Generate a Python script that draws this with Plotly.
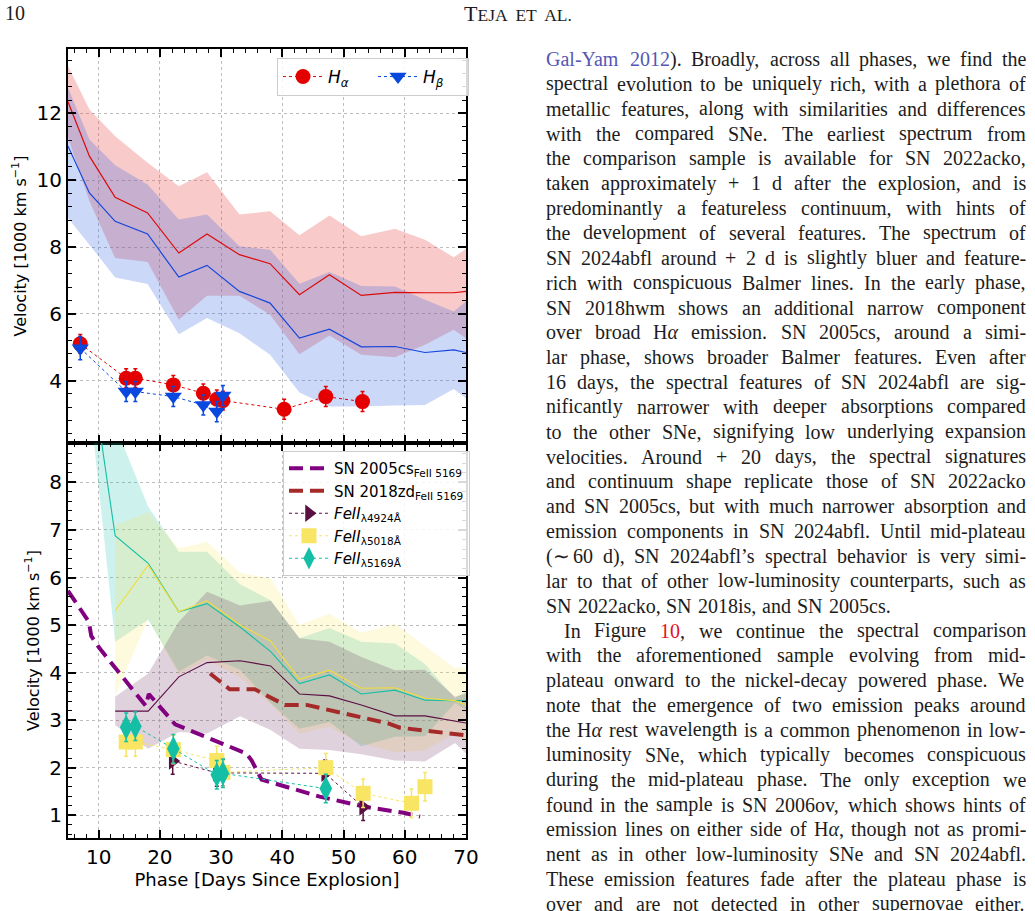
import re
import plotly.graph_objects as go

W, H = 1035, 911

# ---------------- DATA ----------------
# Top panel: comparison sample (mean and spread) for H-alpha / H-beta
comp_x_top = [5.0, 8.5, 12.7, 18.0, 23.1, 27.7, 33.0, 38.0, 42.8, 47.7, 52.9, 58.4, 63.3, 68.0, 70.0]
ha_comp_mean = [12.35, 10.72, 9.49, 9.02, 7.82, 8.39, 7.77, 7.50, 6.57, 7.17, 6.55, 6.64, 6.63, 6.63, 6.67]
ha_comp_upper = [13.42, 12.12, 11.32, 10.52, 9.82, 10.24, 8.97, 9.07, 8.35, 8.94, 8.32, 8.55, 8.22, 7.69, 7.95]
ha_comp_lower = [11.28, 9.37, 7.67, 7.55, 5.82, 6.54, 6.54, 5.97, 4.79, 5.35, 4.77, 4.70, 5.07, 5.52, 5.27]
hb_comp_mean = [11.02, 9.62, 8.77, 8.39, 7.10, 7.45, 6.67, 6.32, 5.27, 5.54, 5.01, 5.02, 4.84, 4.92, 4.84]
hb_comp_upper = [12.77, 11.22, 10.45, 9.87, 8.82, 8.97, 8.02, 7.92, 6.90, 7.25, 6.83, 6.82, 6.42, 6.07, 6.37]
hb_comp_lower = [8.87, 8.07, 7.09, 6.89, 5.39, 5.87, 5.42, 4.77, 3.64, 3.22, 3.22, 3.25, 3.27, 3.75, 3.47]

# Top panel: SN 2024abfl measurements
ha_x = [7.0, 14.5, 16.0, 22.2, 27.1, 29.3, 30.3, 40.3, 47.1, 53.1]
ha_v = [5.10, 4.07, 4.07, 3.87, 3.62, 3.44, 3.40, 3.14, 3.52, 3.37]
ha_err = [0.28, 0.28, 0.28, 0.28, 0.28, 0.28, 0.28, 0.3, 0.3, 0.3]
hb_x = [7.0, 14.5, 16.0, 22.2, 27.1, 29.3, 30.3]
hb_v = [4.97, 3.67, 3.67, 3.52, 3.27, 3.07, 3.55]
hb_err = [0.35, 0.3, 0.3, 0.3, 0.3, 0.3, 0.3]

# Bottom panel: comparison sample for Fe II lines
comp_x_bot = [8.5, 12.7, 18.1, 23.1, 27.7, 33.1, 38.1, 42.8, 47.7, 52.9, 58.4, 63.3, 68.2, 70.0]
fe5169_comp_mean = [10.6, 6.88, 6.30, 5.28, 5.45, 4.96, 4.44, 3.77, 3.95, 3.55, 3.63, 3.42, 3.41, 3.41]
fe5169_comp_upper = [11.5, 9.2, 7.49, 6.54, 6.54, 5.86, 5.52, 4.72, 4.94, 4.65, 4.61, 4.18, 3.46, 3.60]
fe5169_comp_lower = [9.73, 4.65, 5.11, 4.02, 4.36, 4.06, 3.36, 2.82, 2.96, 2.45, 2.65, 2.66, 3.36, 3.22]
comp_x_bot_fe = [12.7, 18.1, 23.1, 27.7, 33.1, 38.1, 42.8, 47.7, 52.9, 58.4, 63.3, 68.2, 70.0]
fe5018_comp_mean = [5.30, 6.26, 5.28, 5.51, 5.00, 4.66, 3.86, 4.05, 3.67, 3.68, 3.46, 3.41, 3.32]
fe5018_comp_upper = [7.10, 7.38, 6.61, 6.75, 6.10, 5.98, 5.00, 5.24, 4.84, 5.03, 4.56, 4.09, 4.12]
fe5018_comp_lower = [3.50, 5.14, 3.95, 4.27, 3.90, 3.34, 2.72, 2.86, 2.50, 2.33, 2.36, 2.73, 2.52]
fe4924_comp_mean = [3.19, 3.19, 3.91, 4.21, 4.25, 4.14, 3.55, 3.51, 3.32, 3.09, 3.09, 2.99, 2.94]
fe4924_comp_upper = [3.49, 3.98, 5.07, 5.70, 5.41, 5.51, 4.72, 4.65, 4.33, 4.05, 4.06, 3.49, 3.56]
fe4924_comp_lower = [2.89, 2.40, 2.75, 2.72, 3.08, 2.79, 2.40, 2.37, 2.28, 2.15, 2.13, 2.52, 2.30]

# Bottom panel: other SNe (Fe II 5169)
sn2005cs_x = [5.0, 8.4, 8.8, 10.1, 17.7, 18.2, 22.5, 34.1, 35.0, 36.6, 46.1, 53.8, 59.8, 62.5]
sn2005cs_v = [5.72, 5.07, 4.77, 4.52, 3.30, 3.55, 2.91, 2.30, 2.15, 1.75, 1.39, 1.17, 1.05, 0.97]
sn2018zd_x = [28.2, 31.4, 35.5, 40.4, 44.0, 57.3, 59.2, 70.0]
sn2018zd_v = [3.98, 3.65, 3.65, 3.32, 3.32, 2.93, 2.84, 2.68]

# Bottom panel: SN 2024abfl Fe II measurements
fe4924_x = [22.1, 29.3, 30.3, 47.0, 53.2]
fe4924_v = [2.14, 1.89, 1.89, 1.88, 1.17]
fe4924_err = [0.28, 0.28, 0.28, 0.28, 0.28]
fe5018_x = [14.5, 16.0, 22.2, 29.3, 30.3, 47.1, 53.2, 61.1, 63.3]
fe5018_v = [2.54, 2.54, 2.38, 2.15, 1.90, 2.00, 1.46, 1.25, 1.60]
fe5018_err = [0.3, 0.3, 0.3, 0.3, 0.3, 0.3, 0.3, 0.3, 0.3]
fe5169_x = [14.5, 16.0, 22.2, 29.3, 30.3, 47.1]
fe5169_v = [2.85, 2.87, 2.40, 1.85, 1.88, 1.56]
fe5169_err = [0.3, 0.3, 0.3, 0.3, 0.3, 0.3]

# Page text
header_page = "10"
header_title = "T<span style='font-size:17.5px'>EJA  ET  AL.</span>"
body_lines = [
    "{b:Gal-Yam} {b:2012}). Broadly, across all phases, we find the",
    "spectral evolution to be uniquely rich, with a plethora of",
    "metallic features, along with similarities and differences",
    "with the compared SNe. The earliest spectrum from",
    "the comparison sample is available for SN 2022acko,",
    "taken approximately + 1 d after the explosion, and is",
    "predominantly a featureless continuum, with hints of",
    "the development of several features. The spectrum of",
    "SN 2024abfl around + 2 d is slightly bluer and feature-",
    "rich with conspicuous Balmer lines. In the early phase,",
    "SN 2018hwm shows an additional narrow component",
    "over broad H{i:α} emission. SN 2005cs, around a simi-",
    "lar phase, shows broader Balmer features. Even after",
    "16 days, the spectral features of SN 2024abfl are sig-",
    "nificantly narrower with deeper absorptions compared",
    "to the other SNe, signifying low underlying expansion",
    "velocities. Around + 20 days, the spectral signatures",
    "and continuum shape replicate those of SN 2022acko",
    "and SN 2005cs, but with much narrower absorption and",
    "emission components in SN 2024abfl. Until mid-plateau",
    "(∼ 60 d), SN 2024abfl’s spectral behavior is very simi-",
    "lar to that of other low-luminosity counterparts, such as",
    "SN 2022acko, SN 2018is, and SN 2005cs.",
    "In Figure {r:10}, we continue the spectral comparison",
    "with the aforementioned sample evolving from mid-",
    "plateau onward to the nickel-decay powered phase. We",
    "note that the emergence of two emission peaks around",
    "the H{i:α} rest wavelength is a common phenomenon in low-",
    "luminosity SNe, which typically becomes conspicuous",
    "during the mid-plateau phase. The only exception we",
    "found in the sample is SN 2006ov, which shows hints of",
    "emission lines on either side of H{i:α}, though not as promi-",
    "nent as in other low-luminosity SNe and SN 2024abfl.",
    "These emission features fade after the plateau phase is",
    "over and are not detected in other supernovae either.",
]
para_end_lines = [22]
indent_lines = [23]

# ---------------- FIGURE ----------------
def px2x(px):
    return px / W


def py2y(py):
    return 1 - py / H


fig = go.Figure()


def band(x, lo, hi, color, xa, ya):
    fig.add_trace(go.Scatter(
        x=list(x) + list(x)[::-1], y=list(hi) + list(lo)[::-1],
        fill="toself", fillcolor=color, line=dict(width=0), mode="lines",
        hoverinfo="skip", showlegend=False, xaxis=xa, yaxis=ya))


def cline(x, y, color, xa, ya, width=1.2):
    fig.add_trace(go.Scatter(x=x, y=y, mode="lines", line=dict(color=color, width=width),
                             showlegend=False, hoverinfo="skip", xaxis=xa, yaxis=ya))


RED = "rgb(228,0,0)"
BLUE = "rgb(8,72,222)"
PURP = "#5a0f43"
YELL = "#f7e563"
TEAL = "#15bfa5"

# top bands
band(comp_x_top, ha_comp_lower, ha_comp_upper, "rgba(232,80,80,0.30)", "x", "y")
band(comp_x_top, hb_comp_lower, hb_comp_upper, "rgba(50,100,225,0.25)", "x", "y")
cline(comp_x_top, ha_comp_mean, "rgb(220,10,10)", "x", "y")
cline(comp_x_top, hb_comp_mean, "rgb(20,70,220)", "x", "y")

fig.add_trace(go.Scatter(
    x=ha_x, y=ha_v, mode="lines+markers", name="<i>H<sub>α</sub></i>",
    marker=dict(symbol="circle", size=15, color=RED),
    line=dict(color=RED, width=1, dash="dot"),
    error_y=dict(type="data", array=ha_err, color=RED, thickness=1.5, width=2),
    xaxis="x", yaxis="y", legend="legend"))
fig.add_trace(go.Scatter(
    x=hb_x, y=hb_v, mode="lines+markers", name="<i>H<sub>β</sub></i>",
    marker=dict(symbol="triangle-down", size=15, color=BLUE),
    line=dict(color=BLUE, width=1, dash="dot"),
    error_y=dict(type="data", array=hb_err, color=BLUE, thickness=1.5, width=2),
    xaxis="x", yaxis="y", legend="legend"))

# bottom bands
band(comp_x_bot, fe5169_comp_lower, fe5169_comp_upper, "rgba(21,191,165,0.21)", "x2", "y2")
band(comp_x_bot_fe, fe5018_comp_lower, fe5018_comp_upper, "rgba(248,228,90,0.20)", "x2", "y2")
band(comp_x_bot_fe, fe4924_comp_lower, fe4924_comp_upper, "rgba(90,15,67,0.19)", "x2", "y2")
cline(comp_x_bot, fe5169_comp_mean, TEAL, "x2", "y2", 1.1)
cline(comp_x_bot_fe, fe5018_comp_mean, "#f2dc3a", "x2", "y2", 1.1)
cline(comp_x_bot_fe, fe4924_comp_mean, PURP, "x2", "y2", 1.1)

fig.add_trace(go.Scatter(
    x=sn2005cs_x, y=sn2005cs_v, mode="lines", name="SN 2005cs<sub>FeII 5169</sub>",
    line=dict(color="#800080", width=4, dash="14px,7px"), xaxis="x2", yaxis="y2", legend="legend2"))
fig.add_trace(go.Scatter(
    x=sn2018zd_x, y=sn2018zd_v, mode="lines", name="SN 2018zd<sub>FeII 5169</sub>",
    line=dict(color="#a52a2a", width=4, dash="14px,7px"), xaxis="x2", yaxis="y2", legend="legend2"))

fig.add_trace(go.Scatter(
    x=fe4924_x, y=fe4924_v, mode="lines+markers", name="<i>FeII</i><sub>λ4924Å</sub>",
    marker=dict(symbol="triangle-right", size=15, color=PURP),
    line=dict(color=PURP, width=1, dash="dot"),
    error_y=dict(type="data", array=fe4924_err, color=PURP, thickness=1.5, width=2),
    xaxis="x2", yaxis="y2", legend="legend2"))
fig.add_trace(go.Scatter(
    x=fe5018_x, y=fe5018_v, mode="lines+markers", name="<i>FeII</i><sub>λ5018Å</sub>",
    marker=dict(symbol="square", size=15, color=YELL),
    line=dict(color=YELL, width=1, dash="dot"),
    error_y=dict(type="data", array=fe5018_err, color=YELL, thickness=1.5, width=2),
    xaxis="x2", yaxis="y2", legend="legend2"))
fig.add_trace(go.Scatter(
    x=fe5169_x, y=fe5169_v, mode="lines+markers", name="<i>FeII</i><sub>λ5169Å</sub>",
    marker=dict(symbol="diamond-tall", size=18, color=TEAL),
    line=dict(color=TEAL, width=1, dash="dot"),
    error_y=dict(type="data", array=fe5169_err, color=TEAL, thickness=1.5, width=2),
    xaxis="x2", yaxis="y2", legend="legend2"))

# ---------------- AXES ----------------
common = dict(
    showline=True, linecolor="black", linewidth=2, mirror="allticks",
    ticks="inside", ticklen=8, tickwidth=1.5, tickcolor="black",
    showgrid=True, gridcolor="#bdbdbd", griddash="dot", gridwidth=1,
    zeroline=False, automargin=False,
    tickfont=dict(family="DejaVu Sans", size=20, color="black"),
)
xdom = [px2x(68), px2x(466)]
fig.update_layout(
    xaxis=dict(**common, domain=xdom, range=[5, 70], tick0=0, dtick=10, anchor="y",
               showticklabels=False, matches="x2",
               minor=dict(ticks="inside", ticklen=4, tickwidth=1, tickcolor="black", dtick=2, showgrid=False)),
    xaxis2=dict(**common, domain=xdom, range=[5, 70], tick0=0, dtick=10, anchor="y2",
                minor=dict(ticks="inside", ticklen=4, tickwidth=1, tickcolor="black", dtick=2, showgrid=False),
                title=dict(text="Phase [Days Since Explosion]", font=dict(family="DejaVu Sans", size=18, color="black"),
                           standoff=0)),
    yaxis=dict(**common, domain=[py2y(443), py2y(49)], range=[2.13, 13.93], tick0=0, dtick=2, anchor="x",
               minor=dict(ticks="inside", ticklen=4, tickwidth=1, tickcolor="black", dtick=0.4, showgrid=False),
               title=dict(text="Velocity [1000 km s<sup>−1</sup>]", font=dict(family="DejaVu Sans", size=16, color="black"),
                          standoff=6)),
    yaxis2=dict(**common, domain=[py2y(838), py2y(443)], range=[0.52, 8.83], tick0=0, dtick=1, anchor="x2",
                minor=dict(ticks="inside", ticklen=4, tickwidth=1, tickcolor="black", dtick=0.2, showgrid=False),
                title=dict(text="Velocity [1000 km s<sup>−1</sup>]", font=dict(family="DejaVu Sans", size=16, color="black"),
                           standoff=6)),
    legend=dict(x=px2x(277), y=py2y(58), xanchor="left", yanchor="top", orientation="h",
                bgcolor="rgba(255,255,255,0.85)", bordercolor="#cccccc", borderwidth=1,
                font=dict(family="DejaVu Sans", size=17, color="black"),
                entrywidth=40, entrywidthmode="pixels",
                itemwidth=40, tracegroupgap=0),
    legend2=dict(x=px2x(283), y=py2y(451), xanchor="left", yanchor="top",
                 bgcolor="rgba(255,255,255,0.85)", bordercolor="#cccccc", borderwidth=1,
                 font=dict(family="DejaVu Sans", size=15, color="black"), itemwidth=40,
                 tracegroupgap=0),
    width=W, height=H, margin=dict(l=0, r=0, t=0, b=0),
    paper_bgcolor="white", plot_bgcolor="white",
    font=dict(family="DejaVu Sans", color="black"),
)

# ---------------- PAGE TEXT ----------------
TIMES = {
    'a': 444, 'b': 500, 'c': 444, 'd': 500, 'e': 444, 'f': 333, 'g': 500, 'h': 500, 'i': 278, 'j': 278,
    'k': 500, 'l': 278, 'm': 778, 'n': 500, 'o': 500, 'p': 500, 'q': 500, 'r': 333, 's': 389, 't': 278,
    'u': 500, 'v': 500, 'w': 722, 'x': 500, 'y': 500, 'z': 444,
    'A': 722, 'B': 667, 'C': 667, 'D': 722, 'E': 611, 'F': 556, 'G': 722, 'H': 722, 'I': 333, 'J': 389,
    'K': 722, 'L': 611, 'M': 889, 'N': 722, 'O': 722, 'P': 556, 'Q': 722, 'R': 667, 'S': 556, 'T': 611,
    'U': 722, 'V': 722, 'W': 944, 'X': 722, 'Y': 722, 'Z': 611,
    ',': 250, '.': 250, '(': 333, ')': 333, '-': 333, '+': 564, '’': 333, '∼': 541, 'α': 520,
    ':': 278, ';': 278, ' ': 250,
}
FS = 20
TEXT_L, TEXT_R = 545, 1025


def plain(s):
    return re.sub(r"\{[a-z]:|\}", "", s)


def markup(s):
    s = re.sub(r"\{b:([^}]*)\}", r"<span style='color:#5656b4'>\1</span>", s)
    s = re.sub(r"\{r:([^}]*)\}", r"<span style='color:#e8101a'>\1</span>", s)
    s = re.sub(r"\{i:([^}]*)\}", r"<i>\1</i>", s)
    return s


def wwidth(s):
    return sum(TIMES.get(c, 500) for c in plain(s)) * FS / 1000.0


annotations = []
for i, line in enumerate(body_lines):
    yc = 60 + i * 24.85 - 1
    left = TEXT_L + (18 if i in indent_lines else 0)
    words = line.split(" ")
    widths = [wwidth(w) for w in words]
    if i in para_end_lines or len(words) == 1:
        gap = 0.3 * FS
    else:
        gap = (TEXT_R - left - sum(widths)) / (len(words) - 1)
    xpos = left
    for w, wd in zip(words, widths):
        annotations.append(dict(
            x=px2x(xpos - 1), y=py2y(yc), xref="paper", yref="paper", xanchor="left", yanchor="middle",
            text=markup(w), showarrow=False,
            font=dict(family="Liberation Serif", size=FS, color="#1c1c1c")))
        xpos += wd + gap

annotations.append(dict(x=px2x(3), y=py2y(13), xref="paper", yref="paper", xanchor="left", yanchor="middle",
                        text=header_page, showarrow=False,
                        font=dict(family="Liberation Serif", size=20, color="#1c1c1c")))
annotations.append(dict(x=px2x(518), y=py2y(13), xref="paper", yref="paper", xanchor="center", yanchor="middle",
                        text=header_title, showarrow=False,
                        font=dict(family="Liberation Serif", size=22, color="#1c1c1c")))
fig.update_layout(annotations=annotations)

fig.write_html("out.html")
